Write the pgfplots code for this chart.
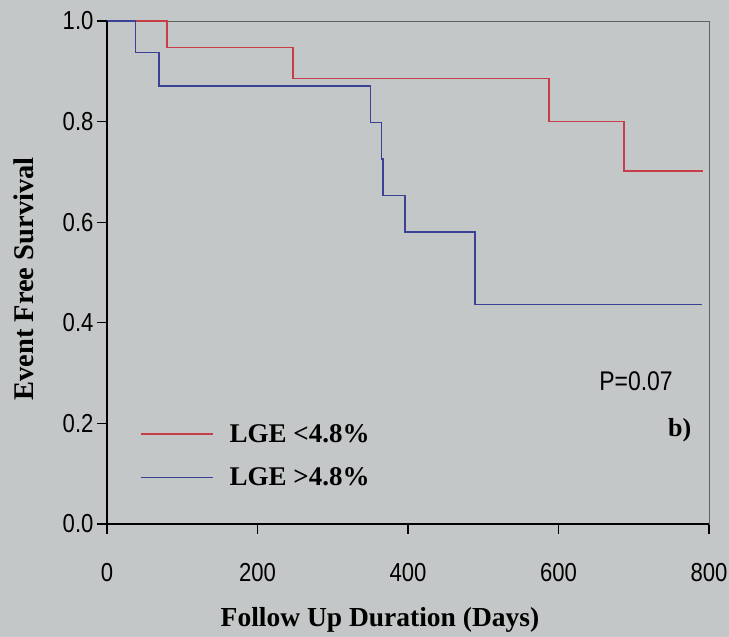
\documentclass[border=0pt]{standalone}
\usepackage{fontspec}
\setmainfont{Liberation Serif}
\newfontfamily\ticksans[FakeStretch=0.85]{Liberation Sans}
\usepackage{pgfplots}
\pgfplotsset{compat=1.18}

\definecolor{bgcol}{RGB}{196,199,199}
\definecolor{kmred}{RGB}{200,62,72}
\definecolor{kmblue}{RGB}{58,66,150}
\definecolor{framegray}{RGB}{95,98,98}

\begin{document}
\begin{tikzpicture}
\useasboundingbox (0,0) rectangle (729pt,637pt);
\fill[bgcol] (0,0) rectangle (729pt,637pt);
\begin{axis}[
    at={(107pt,113pt)}, anchor=south west,
    scale only axis, width=602pt, height=503pt,
    xmin=0, xmax=800, ymin=0, ymax=1,
    xtick={0,200,...,800}, ytick={0,0.2,...,1.0},
    xtick pos=bottom, ytick pos=left,
    tick align=outside, major tick length=10pt,
    tick style={black, line width=1.2pt},
    axis line style={framegray, line width=0.8pt},
    /pgf/number format/assume math mode=true,
    yticklabel style={/pgf/number format/fixed, /pgf/number format/fixed zerofill,
        /pgf/number format/precision=1, xshift=0pt},
    xticklabel style={/pgf/number format/fixed, /pgf/number format/precision=0, yshift=-26pt},
    tick label style={font=\ticksans\fontsize{26}{30}\selectfont},
    xlabel={Follow Up Duration (Days)},
    ylabel={Event Free Survival},
    xlabel style={at={(axis description cs:0.4535,-0.191)}, anchor=center,
        font=\bfseries\fontsize{27.5}{30}\selectfont},
    ylabel style={at={(axis description cs:-0.138,0.487)}, anchor=center, rotate=0,
        font=\bfseries\fontsize{28.5}{30}\selectfont},
    clip=false,
    legend style={at={(rel axis cs:0.055,0.203)}, anchor=north west,
        draw=none, fill=none, inner sep=0pt, row sep=20pt,
        font=\bfseries\fontsize{27}{30}\selectfont,
        /tikz/every odd column/.append style={column sep=14pt}},
    legend cell align=left,
    legend image code/.code={\draw[#1, line width=1.4pt] (0pt,0pt) -- (72pt,0pt);},
]
\addplot[kmred, line width=1.6pt, const plot] coordinates {
    (0,1) (80,0.947) (247,0.886) (587,0.800) (687,0.702) (792,0.702)
};
\addlegendentry{LGE <4.8\%}
\addplot[kmblue, line width=1.6pt, const plot] coordinates {
    (0,1) (38,0.937) (69,0.871) (350,0.798) (365,0.726) (367,0.653)
    (396,0.581) (489,0.436) (791,0.436)
};
\addlegendentry{LGE >4.8\%}
\draw[black, line width=1.6pt] (rel axis cs:0,1) -- (rel axis cs:0,0) -- (rel axis cs:1,0);
\node[font=\ticksans\fontsize{27}{30}\selectfont] at (axis cs:703,0.284) {P=0.07};
\node[font=\bfseries\fontsize{26}{30}\selectfont] at (axis cs:761,0.187) {b)};
\end{axis}
\end{tikzpicture}
\end{document}
